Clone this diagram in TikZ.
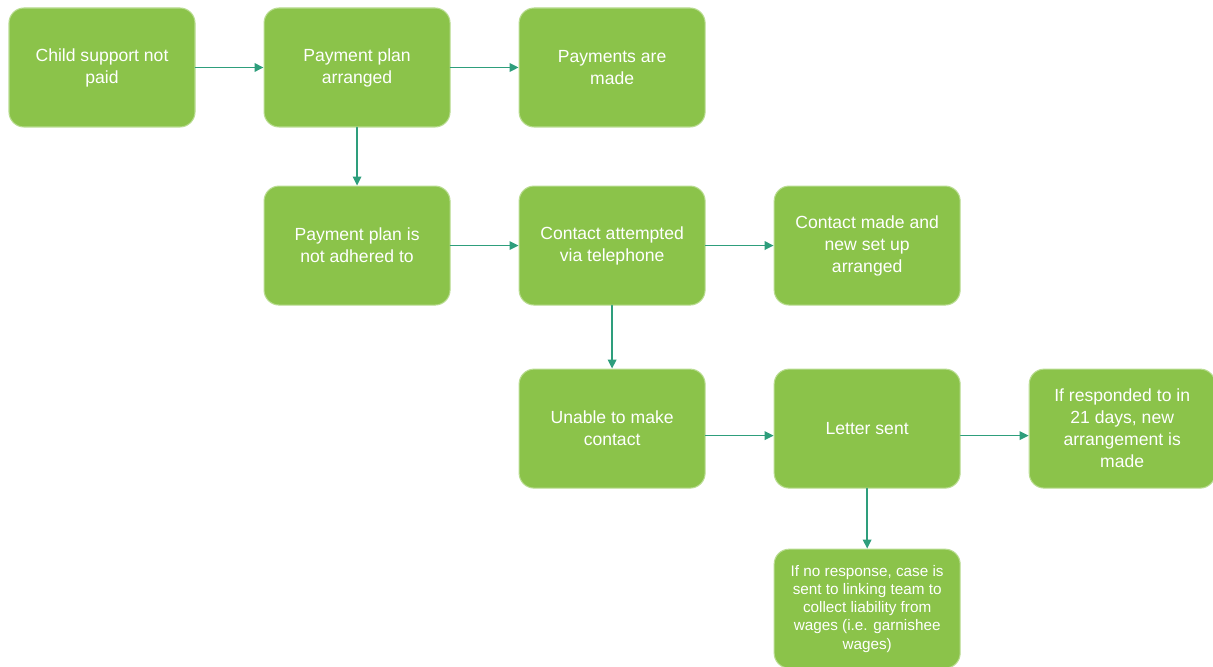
\documentclass[tikz,border=0pt]{standalone}
\usepackage{fontspec}
\setmainfont{Liberation Sans}
\usepackage{tikz}
\usetikzlibrary{arrows.meta,positioning}
\definecolor{leaf}{HTML}{8BC34A}
\definecolor{leafline}{HTML}{B9DC91}
\definecolor{sea}{HTML}{2E9E7C}
\tikzset{
    every picture/.style={line cap=round,line join=round},
    flownode/.style={draw=leafline,fill=leaf,line width=0.6pt,rounded corners=3mm,
      minimum width=37.2mm,minimum height=23.8mm,inner sep=2pt,outer sep=0.3pt,
      text=white,font=\fontsize{10}{12.5}\selectfont,align=center},
    smallnode/.style={flownode,font=\fontsize{8.7}{10.4}\selectfont},
    flowarrow/.style={-{Triangle[length=1.8mm,width=1.7mm]},draw=sea,
      line width=1pt}
}
\begin{document}
\begin{tikzpicture}
  \useasboundingbox (0,0) rectangle (242.6mm,-133.4mm);
  \node[flownode] (unpaid) at (20.4mm,-13.5mm) {Child support not\\paid};
  \node[flownode,right=13.6mm of unpaid] (arranged) {Payment plan\\arranged};
  \node[flownode,right=13.6mm of arranged] (made) {Payments are\\made};
  \node[flownode,below=11.6mm of arranged] (broken) {Payment plan is\\not adhered to};
  \node[flownode,right=13.6mm of broken] (phone) {Contact attempted\\via telephone};
  \node[flownode,right=13.6mm of phone] (reached) {Contact made and\\new set up\\arranged};
  \node[flownode,below=12.6mm of phone] (nocontact) {Unable to make\\contact};
  \node[flownode,right=13.6mm of nocontact] (letter) {Letter sent};
  \node[flownode,right=13.6mm of letter] (replied) {If responded to in\\21 days, new\\arrangement is\\made};
  \node[smallnode,below=12mm of letter] (linking)
    {If no response, case is\\sent to linking team to\\collect liability from\\wages (i.e. garnishee\\wages)};
  % connectors
  \draw[flowarrow] (unpaid)--(arranged);
  \draw[flowarrow] (arranged)--(made);
  \draw[flowarrow] (arranged)--(broken);
  \draw[flowarrow] (broken)--(phone);
  \draw[flowarrow] (phone)--(reached);
  \draw[flowarrow] (phone)--(nocontact);
  \draw[flowarrow] ([yshift=-1.4mm]nocontact.east)--([yshift=-1.4mm]letter.west);
  \draw[flowarrow] ([yshift=-1.4mm]letter.east)--([yshift=-1.4mm]replied.west);
  \draw[flowarrow] (letter)--(linking);
\end{tikzpicture}
\end{document}
